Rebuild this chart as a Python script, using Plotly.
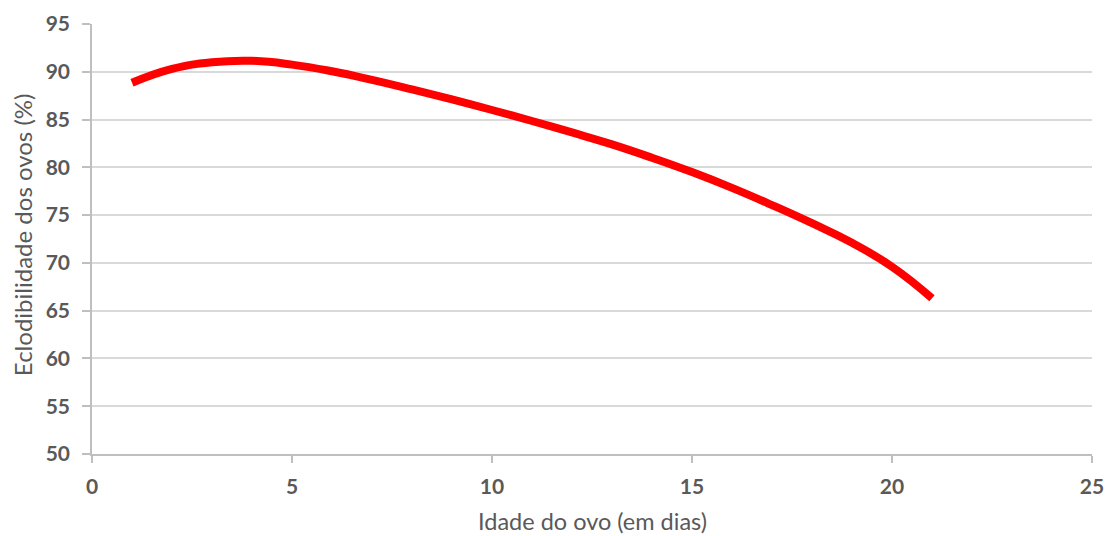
import plotly.graph_objects as go

dias = list(range(1, 22))
eclodibilidade = [88.85, 90.3, 91.0, 91.15, 90.75, 90.05, 89.15, 88.15, 87.1, 86.0,
                  84.85, 83.65, 82.4, 81.0, 79.5, 77.85, 76.05, 74.15, 72.1, 69.6, 66.3]

x_ticks = [0, 5, 10, 15, 20, 25]
y_ticks = [50, 55, 60, 65, 70, 75, 80, 85, 90, 95]

x_title = "Idade do ovo (em dias)"
y_title = "Eclodibilidade dos ovos (%)"

grey = "#595959"
axis_grey = "#bfbfbf"
fig = go.Figure()
fig.add_trace(go.Scatter(
    x=dias, y=eclodibilidade, mode="lines",
    line=dict(color="#ff0000", width=8, shape="spline", smoothing=1.3),
    showlegend=False, hoverinfo="x+y"))

tickfont = dict(size=21, family="Lato, sans-serif", weight="bold", color=grey)

fig.update_layout(
    width=1105, height=536,
    margin=dict(l=92, r=13, t=24, b=82, autoexpand=False),
    paper_bgcolor="white", plot_bgcolor="white",
    font=dict(family="Lato, sans-serif", color=grey),
    xaxis=dict(
        range=[0, 25], tickvals=x_ticks, showgrid=False, zeroline=False,
        showline=True, linecolor=axis_grey, linewidth=1.5,
        ticks="outside", ticklen=7, tickcolor=axis_grey, tickwidth=1.5,
        tickfont=tickfont, ticklabelstandoff=6, automargin=False,
    ),
    yaxis=dict(
        range=[50, 95], tickvals=y_ticks, showgrid=True, gridcolor="#d9d9d9", gridwidth=1.5,
        zeroline=False, showline=True, linecolor=axis_grey, linewidth=1.5,
        ticks="outside", ticklen=8, tickcolor=axis_grey, tickwidth=1.5,
        tickfont=tickfont, ticklabelstandoff=8, automargin=False,
    ),
    annotations=[
        dict(text=x_title, xref="paper", yref="paper", x=0.5, y=-0.156,
             xanchor="center", yanchor="middle", showarrow=False, borderpad=0,
             font=dict(size=23.5, color=grey, family="Lato, sans-serif")),
        dict(text=y_title, xref="paper", yref="paper", x=-0.07, y=0.509,
             xanchor="center", yanchor="middle", showarrow=False, textangle=-90,
             font=dict(size=24, color=grey, family="Lato, sans-serif")),
    ],
)

fig.write_html("out.html", config={"displayModeBar": False},
               post_script="document.body.style.margin='0';")
